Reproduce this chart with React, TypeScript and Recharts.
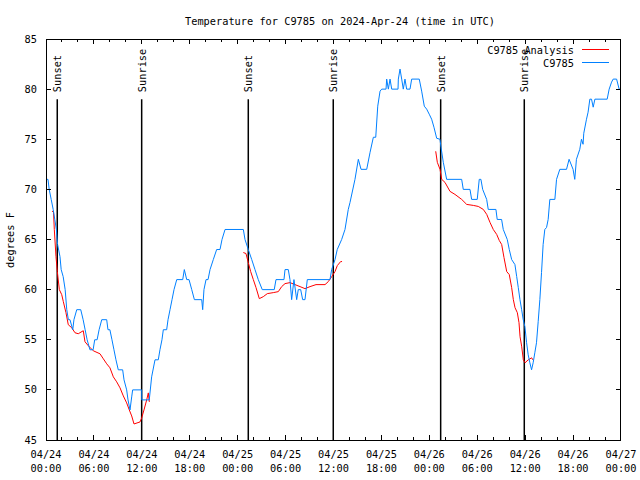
import React from "react";
import { LineChart, Line, XAxis, YAxis, ReferenceLine, ReferenceDot, Legend } from "recharts";

const FONT = "'DejaVu Sans Mono', monospace";
const FS = 10.3;

// hours since 04/24 00:00 UTC
const obsHours = [
  0.0, 0.25, 0.4, 0.65, 0.9, 1.1, 1.3, 1.45, 1.75, 1.9, 2.15, 2.4, 2.6, 2.8, 3.0, 3.35, 3.5, 3.85, 4.35, 4.65,
  4.9, 5.15, 5.5, 5.9, 6.1, 6.4, 6.65, 6.98, 7.6, 7.76, 8.0, 8.26, 8.51, 8.76, 9.05, 9.6, 9.77, 10.1, 10.27, 10.52,
  10.73, 10.85, 11.98, 11.99, 12.93, 13.23, 13.65, 14.06, 14.27, 14.52, 14.69, 15.11, 15.28, 15.53, 15.78, 16.03, 16.37, 17.12, 17.32, 17.62,
  17.91, 18.25, 18.58, 19.5, 19.62, 19.78, 20.04, 20.29, 20.54, 20.95, 21.37, 21.79, 22.04, 22.42, 24.71, 24.92, 25.33, 25.76, 26.17, 26.58,
  27.08, 28.58, 28.8, 29.8, 29.93, 30.34, 30.55, 30.76, 31.05, 31.39, 31.59, 31.89, 32.14, 32.43, 32.72, 35.56, 35.77, 36.19, 36.47, 37.02,
  37.44, 37.85, 38.07, 38.69, 39.11, 39.45, 40.16, 40.58, 40.99, 41.29, 41.54, 41.83, 42.04, 42.58, 42.66, 42.87, 43.08, 43.29, 44.08, 44.12,
  44.33, 44.54, 44.74, 44.95, 45.16, 45.58, 45.79, 46.74, 47.04, 47.37, 47.67, 47.99, 48.29, 48.58, 48.92, 49.33, 49.46, 49.75, 50.17, 52.05,
  52.25, 53.09, 53.3, 54.0, 54.25, 54.46, 54.68, 55.18, 55.38, 55.59, 56.34, 56.5, 57.05, 57.26, 57.76, 58.01, 58.31, 58.72, 58.94, 59.14,
  59.35, 59.56, 59.76, 59.97, 60.18, 60.38, 60.59, 60.8, 61.0, 61.21, 61.42, 61.63, 61.84, 62.05, 62.25, 62.46, 62.68, 62.88, 63.09, 63.72,
  63.93, 64.34, 65.18, 65.5, 66.0, 66.21, 66.42, 66.84, 67.05, 67.25, 67.34, 67.68, 67.88, 68.1, 68.31, 68.52, 68.73, 70.27, 70.52, 70.82,
  71.02, 71.45, 71.77, 72.0,
];
const obsTemps = [
  71, 71, 70, 69, 68, 67, 66, 64.5, 63.3, 62, 61.3, 60, 58, 57, 57, 56, 57, 58, 58, 57,
  56, 55, 54, 54, 55, 55, 56, 57, 57, 56, 56, 55, 54, 53, 52, 52, 51, 50, 49, 48,
  49.3, 50, 50, 49, 49, 51.3, 53, 53, 54, 55, 56, 56, 57, 58, 59, 60, 61, 61, 62, 61,
  61, 60, 59, 59, 58, 60, 61, 61, 62, 63, 64, 64, 65, 66, 66, 65, 64, 63, 62, 61,
  60, 60, 61, 61, 62, 62, 61, 59, 61, 59, 60, 60, 59, 59, 61, 61, 62, 63, 64, 65,
  66, 68, 68.7, 71, 73, 72, 72, 73.7, 75.2, 75.2, 78.3, 79.8, 80, 80, 81, 80, 81, 80, 80, 81,
  82, 81, 80, 81, 80, 80, 81, 81, 79.8, 78.3, 78, 77.5, 77, 76.2, 75.1, 75, 74.2, 72.7, 71, 71,
  70, 70, 69, 69, 71, 71, 70, 69, 68, 68, 68, 67, 67, 66, 65, 64, 63, 62.5, 61.3, 60.2,
  59, 58, 57, 56.3, 54.7, 53.5, 52.7, 52, 52.7, 53.7, 54.7, 56.8, 59, 61.7, 64.5, 66, 66.2, 67, 69, 69,
  71, 72, 72, 73, 72, 71, 73, 74, 75, 74.5, 75.6, 77, 77.7, 79, 79, 78.2, 79, 79, 80, 80.7,
  81, 81, 80, 80,
];

// analysis runs, one per night
const anaHours1 = [0.75, 0.94, 1.04, 1.25, 1.42, 1.67, 1.97, 2.17, 2.5, 2.79, 3.22, 3.63, 4.04, 4.67, 4.88, 5.3, 5.92, 6.76, 7.18, 7.6, 8.01, 8.43, 8.85, 9.27, 9.68, 10.1, 10.43, 10.73, 11.02, 11.77, 11.98, 12.27, 12.61, 12.81, 12.94];
const anaTemps1 = [67.8, 67.8, 66, 63.3, 61.8, 60, 59.5, 58.8, 57.7, 56.5, 56.2, 55.7, 55.6, 55.9, 54.8, 54.4, 53.9, 53.6, 53.1, 52.6, 52.2, 51.3, 50.8, 50.2, 49.4, 48.7, 48, 47.4, 46.6, 46.8, 47.2, 48, 49, 49.7, 48.8];
const anaHours2 = [24.71, 25.04, 25.33, 25.63, 25.96, 26.3, 26.71, 27.21, 27.71, 28.46, 29.09, 29.51, 29.93, 30.55, 31.18, 31.81, 32.43, 33.06, 33.81, 34.94, 35.35, 35.78, 36.19, 36.48, 36.9, 37.07];
const anaTemps2 = [63.7, 63.6, 62.7, 61.8, 61, 60.2, 59.1, 59.3, 59.6, 59.7, 59.8, 60.3, 60.6, 60.7, 60.5, 60.3, 60.1, 60.3, 60.5, 60.5, 60.8, 61.3, 61.8, 62.4, 62.8, 62.8];
const anaHours3 = [48.8, 49.0, 49.34, 49.55, 49.96, 50.59, 51.21, 52.05, 52.68, 53.51, 54.13, 54.76, 55.19, 55.6, 56.01, 56.44, 56.76, 57.06, 57.35, 57.69, 58.01, 58.31, 58.52, 58.73, 59.02, 59.23, 59.36, 59.57, 59.77, 59.98, 60.39, 60.82, 60.95];
const anaTemps3 = [73.8, 72.7, 72, 71, 70.7, 69.8, 69.5, 69, 68.5, 68.4, 68.3, 68, 67.5, 66.7, 66, 65.5, 64.9, 64.5, 63.2, 61.8, 61.5, 60.2, 59, 58.2, 57.7, 56.7, 55.3, 54.3, 53, 52.7, 53, 53.2, 53];

const sunHours = [1.41, 11.98, 25.33, 35.97, 49.42, 59.89];
const sunLabels = ["Sunset", "Sunrise", "Sunset", "Sunrise", "Sunset", "Sunrise"];

const hourTicks = [0, 2, 4, 6, 8, 10, 12, 14, 16, 18, 20, 22, 24, 26, 28, 30, 32, 34, 36, 38, 40, 42, 44, 46, 48, 50, 52, 54, 56, 58, 60, 62, 64, 66, 68, 70, 72];
const majorTicks = [0, 6, 12, 18, 24, 30, 36, 42, 48, 54, 60, 66, 72];
const tickDates = ["04/24", "04/24", "04/24", "04/24", "04/25", "04/25", "04/25", "04/25", "04/26", "04/26", "04/26", "04/26", "04/27"];
const tickTimes = ["00:00", "06:00", "12:00", "18:00", "00:00", "06:00", "12:00", "18:00", "00:00", "06:00", "12:00", "18:00", "00:00"];
const tempTicks = [45, 50, 55, 60, 65, 70, 75, 80, 85];

const toRows = (hs: number[], ts: number[]) => hs.map((h, i) => ({ h, t: ts[i] as number | null }));
const obsData = toRows(obsHours, obsTemps);
const anaData = [
  ...toRows(anaHours1, anaTemps1),
  { h: 18, t: null },
  ...toRows(anaHours2, anaTemps2),
  { h: 42, t: null },
  ...toRows(anaHours3, anaTemps3),
];

const AXIS = { stroke: "#000", strokeWidth: 1, shapeRendering: "crispEdges" };
const TICK = { stroke: "#000", strokeWidth: 1, shapeRendering: "crispEdges" };

// x/y arrive on the axis line: tickMargin cancels the negative (inward) tickSize
const BottomTick = ({ x, y, payload }: any) => {
  const i = majorTicks.indexOf(payload.value);
  if (i < 0) return <g />;
  return (
    <g>
      <line x1={x} x2={x} y1={y} y2={y - 5} stroke="#000" shapeRendering="crispEdges" />
      <text x={x} y={y} textAnchor="middle" fontFamily={FONT} fontSize={FS} fill="#000">
        <tspan x={x} dy={18}>{tickDates[i]}</tspan>
        <tspan x={x} dy={13.5}>{tickTimes[i]}</tspan>
      </text>
    </g>
  );
};

const TopTick = ({ x, y, payload }: any) =>
  majorTicks.indexOf(payload.value) >= 0 ? (
    <line x1={x} x2={x} y1={y} y2={y + 5} stroke="#000" shapeRendering="crispEdges" />
  ) : (
    <g />
  );

const LeftTick = ({ x, y, payload }: any) => (
  <text x={x - 9} y={y} dy="0.35em" textAnchor="end" fontFamily={FONT} fontSize={FS} fill="#000">
    {payload.value}
  </text>
);

const NoLabel = () => <g />;

const PlotText = ({ px, py, text, vertical }: any) => (
  <text
    x={px}
    y={py}
    transform={vertical ? `rotate(-90 ${px} ${py})` : undefined}
    dominantBaseline="central"
    textAnchor="middle"
    fontFamily={FONT}
    fontSize={FS}
    fill="#000"
  >
    {text}
  </text>
);

const SunLabel = (label: string) => (p: any) => (
  <text
    x={p.cx}
    y={p.cy}
    transform={`rotate(-90 ${p.cx} ${p.cy})`}
    dominantBaseline="central"
    fontFamily={FONT}
    fontSize={FS}
    fill="#000"
  >
    {label}
  </text>
);

const LegendBox = () => (
  <svg width={220} height={30} style={{ display: "block" }}>
    <text x={174} y={10} dominantBaseline="central" textAnchor="end" fontFamily={FONT} fontSize={FS} fill="#000">
      C9785 Analysis
    </text>
    <line x1={182} x2={209} y1={9.5} y2={9.5} stroke="#ff0000" />
    <text x={174} y={22.5} dominantBaseline="central" textAnchor="end" fontFamily={FONT} fontSize={FS} fill="#000">
      C9785
    </text>
    <line x1={182} x2={209} y1={22.5} y2={22.5} stroke="#0080ff" />
  </svg>
);

export default function App() {
  return (
    <div style={{ position: "absolute", left: 0, top: 0, width: 640, height: 480, background: "#fff" }}>
      <LineChart width={640} height={480} margin={{ top: 39, right: 19, bottom: 0, left: 6 }}>
        <XAxis
          xAxisId={0}
          dataKey="h"
          type="number"
          domain={[0, 72]}
          ticks={hourTicks}
          interval={0}
          height={40}
          tickSize={-3}
          tickMargin={3}
          tick={<BottomTick />}
          tickLine={TICK}
          axisLine={AXIS}
          allowDataOverflow
        />
        <XAxis
          xAxisId="top"
          orientation="top"
          dataKey="h"
          type="number"
          domain={[0, 72]}
          ticks={hourTicks}
          interval={0}
          height={0.01}
          tickSize={-3}
          tickMargin={3}
          tick={<TopTick />}
          tickLine={TICK}
          axisLine={AXIS}
          label={<PlotText px={340} py={21} text="Temperature for C9785 on 2024-Apr-24 (time in UTC)" />}
          allowDataOverflow
        />
        <YAxis
          yAxisId={0}
          type="number"
          domain={[45, 85]}
          ticks={tempTicks}
          interval={0}
          width={40}
          tickSize={-5}
          tickMargin={5}
          tick={<LeftTick />}
          tickLine={TICK}
          axisLine={AXIS}
          label={<PlotText px={10} py={240} vertical text="degrees F" />}
          allowDataOverflow
        />
        <YAxis
          yAxisId="right"
          orientation="right"
          type="number"
          domain={[45, 85]}
          ticks={tempTicks}
          interval={0}
          width={0.01}
          tickSize={-5}
          tickMargin={5}
          tick={<NoLabel />}
          tickLine={TICK}
          axisLine={AXIS}
          allowDataOverflow
        />
        {sunHours.map((h, i) => (
          <ReferenceLine
            key={`sl-${i}`}
            segment={[{ x: h, y: 79 }, { x: h, y: 45 }]}
            stroke="#000"
            strokeWidth={1.5}
          />
        ))}
        {sunHours.map((h, i) => (
          <ReferenceDot key={`sd-${i}`} x={h} y={79.7} r={0} shape={SunLabel(sunLabels[i])} />
        ))}
        <Line
          data={anaData}
          dataKey="t"
          type="linear"
          stroke="#ff0000"
          strokeWidth={1}
          dot={false}
          connectNulls={false}
          isAnimationActive={false}
        />
        <Line
          data={obsData}
          dataKey="t"
          type="linear"
          stroke="#0080ff"
          strokeWidth={1}
          dot={false}
          isAnimationActive={false}
        />
        <Legend
          layout="horizontal"
          verticalAlign="middle"
          align="center"
          content={<LegendBox />}
          wrapperStyle={{ position: "absolute", left: 400, top: 40, width: 220, height: 30 }}
        />
      </LineChart>
    </div>
  );
}
